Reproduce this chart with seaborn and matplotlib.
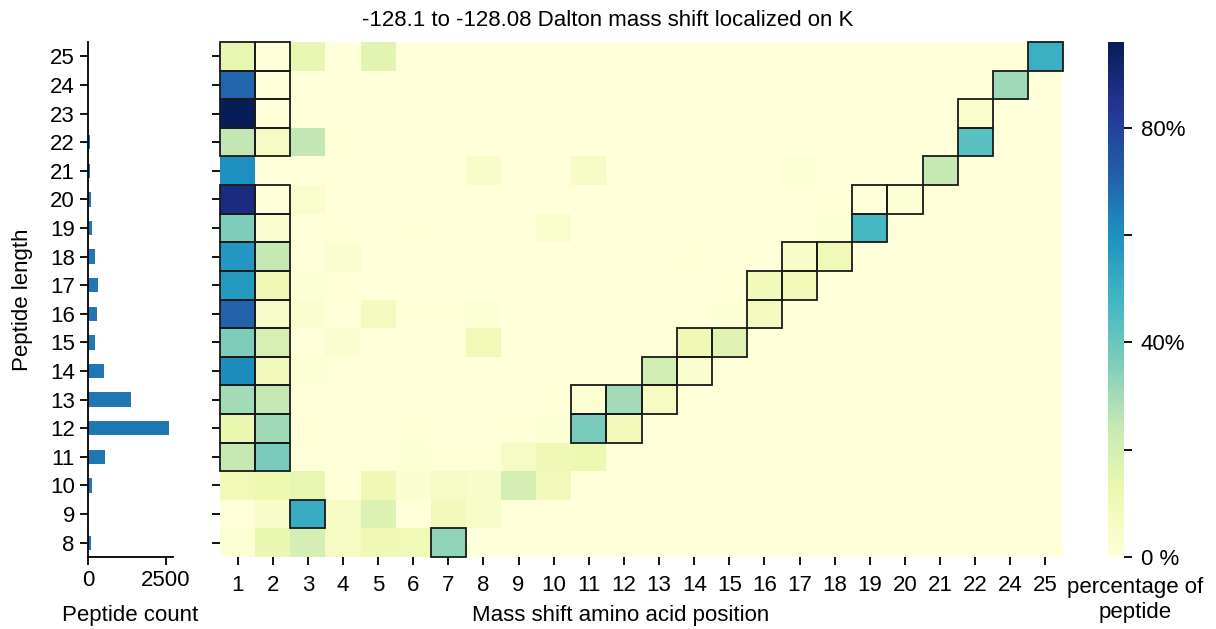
import numpy as np
import pandas as pd
import matplotlib
matplotlib.use("Agg")
import matplotlib.pyplot as plt
import seaborn as sns
from matplotlib.patches import Rectangle

# Peptide lengths (top row first) and modified-residue positions
lengths = list(range(25, 7, -1))
positions = [1, 2, 3, 4, 5, 6, 7, 8, 9, 10, 11, 12, 13, 14, 15, 16, 17, 18,
             19, 20, 21, 22, 24, 25]

# Number of peptides per length
peptide_counts = [10, 12, 14, 75, 60, 80, 130, 230, 310, 300, 225, 510,
                  1360, 2590, 555, 140, 15, 85]

# Percentage of peptides carrying the shift at each position, one row per length
pct_25 = [14, 0, 14, 0, 15, 0, 0, 0, 0, 0, 0, 0, 0, 0, 0, 0, 0, 0, 0, 0, 0, 0, 0, 50]
pct_24 = [70, 0, 0, 0, 0, 0, 0, 0, 0, 0, 0, 0, 0, 0, 0, 0, 0, 0, 0, 0, 0, 0, 31, 0]
pct_23 = [96, 0, 0, 0, 0, 0, 0, 0, 0, 0, 0, 0, 0, 0, 0, 0, 0, 0, 0, 0, 0, 4, 0, 0]
pct_22 = [25, 6, 25, 1, 0, 0, 0, 0, 0, 0, 0, 0, 0, 0, 0, 0, 0, 0, 0, 0, 0, 43, 0, 0]
pct_21 = [60, 0.5, 0, 0, 0, 0, 0, 5, 0, 0, 6, 0, 0, 0, 0, 0, 2, 0, 0, 0, 24, 0, 0, 0]
pct_20 = [88, 0.5, 4, 0, 0, 0, 0, 0, 0, 0, 0, 0, 0, 0, 0, 0, 0.5, 1, 0, 2, 0, 0, 0, 0]
pct_19 = [36, 3.5, 0.5, 1, 0.5, 1, 0.5, 0, 0, 4, 0, 0, 0, 0, 0, 0, 0, 2, 47, 0, 0, 0, 0, 0]
pct_18 = [58, 24, 0.5, 3, 0, 0, 0, 0, 0, 0, 0, 0, 0, 1, 0, 0, 5, 10, 0, 0, 0, 0, 0, 0]
pct_17 = [57, 11, 2, 1, 0, 0, 0, 0, 0.5, 0, 0, 0, 0, 0, 1, 9, 10, 0, 0, 0, 0, 0, 0, 0]
pct_16 = [71, 5, 3, 0.5, 8, 1, 1, 2, 0, 0, 0, 0, 0, 0, 2, 8, 0, 0, 0, 0, 0, 0, 0, 0]
pct_15 = [36, 19, 0.5, 3, 0.5, 0.5, 0.5, 10, 0, 0, 0, 0.5, 0.5, 11, 16, 0, 0, 0, 0, 0, 0, 0, 0, 0]
pct_14 = [61, 9, 2, 0.5, 0, 0, 0, 0, 0, 0, 0, 0, 21, 3, 0, 0, 0, 0, 0, 0, 0, 0, 0, 0]
pct_13 = [30, 24, 0.5, 0.5, 0.5, 0.5, 0.5, 0.5, 0.5, 1, 2.5, 30, 7, 0, 0, 0, 0, 0, 0, 0, 0, 0, 0, 0]
pct_12 = [13, 31, 1, 0.5, 0.5, 1, 0.5, 0.5, 1, 2, 37, 9, 0, 0, 0, 0, 0, 0, 0, 0, 0, 0, 0, 0]
pct_11 = [24, 37, 0.5, 0.5, 0.5, 2, 1, 1, 6, 11, 12, 0, 0, 0, 0, 0, 0, 0, 0, 0, 0, 0, 0, 0]
pct_10 = [10, 12, 14, 1, 11, 3, 6, 5, 20, 9, 0, 0, 0, 0, 0, 0, 0, 0, 0, 0, 0, 0, 0, 0]
pct_9 = [0.5, 5, 51, 6, 17, 0, 9, 5, 0, 0, 0, 0, 0, 0, 0, 0, 0, 0, 0, 0, 0, 0, 0, 0]
pct_8 = [2, 13, 20, 7, 11, 10, 33, 0, 0, 0, 0, 0, 0, 0, 0, 0, 0, 0, 0, 0, 0, 0, 0, 0]

# Cells highlighted with a frame: peptide length -> positions
highlighted = {
    25: [1, 2, 25], 24: [1, 2, 24], 23: [1, 2, 22], 22: [1, 2, 22],
    21: [21], 20: [1, 2, 19, 20], 19: [1, 2, 19], 18: [1, 2, 17, 18],
    17: [1, 2, 16, 17], 16: [1, 2, 16], 15: [1, 2, 14, 15],
    14: [1, 2, 13, 14], 13: [1, 2, 11, 12, 13], 12: [1, 2, 11, 12],
    11: [1, 2], 9: [3], 8: [7],
}

title = "-128.1 to -128.08 Dalton mass shift localized on K"

pct_table = pd.DataFrame(
    [pct_25, pct_24, pct_23, pct_22, pct_21, pct_20, pct_19, pct_18, pct_17,
     pct_16, pct_15, pct_14, pct_13, pct_12, pct_11, pct_10, pct_9, pct_8],
    index=lengths, columns=positions)
counts = pd.DataFrame({"length": [str(l) for l in lengths], "count": peptide_counts})

plt.rcParams["font.family"] = ["Liberation Sans", "DejaVu Sans"]
FS = 16
plt.rcParams["font.size"] = FS

W, H = 1216, 629
fig = plt.figure(figsize=(W / 100, H / 100), dpi=100)


def frac(x0, y0, x1, y1):
    return [x0 / W, 1 - y1 / H, (x1 - x0) / W, (y1 - y0) / H]


ax_bar = fig.add_axes(frac(88, 42, 173, 557))
ax_hm = fig.add_axes(frac(220, 42, 1063, 557))
ax_cb = fig.add_axes(frac(1108, 42, 1124, 557))

vmax = float(pct_table.values.max())
sns.heatmap(pct_table, ax=ax_hm, cmap="YlGnBu", vmin=0, vmax=vmax,
            cbar_ax=ax_cb, xticklabels=True, yticklabels=True)

# frames around highlighted cells
for length, pos_list in highlighted.items():
    r = lengths.index(length)
    for p in pos_list:
        c = positions.index(p)
        ax_hm.add_patch(Rectangle((c, r), 1, 1, fill=False,
                                  edgecolor="#1a1a1a", lw=1.3, zorder=3,
                                  clip_on=False))

ax_hm.set_yticklabels([])
ax_hm.set_ylabel("")
ax_hm.set_xlabel("")
ax_hm.set_xticklabels([str(p) for p in positions], rotation=0)
ax_hm.tick_params(axis="y", length=6, width=1.3, pad=2)
ax_hm.tick_params(axis="x", length=6, width=1.3, pad=7, labelsize=FS)

# colorbar styling
ax_cb.set_yticks([0, 20, 40, 60, 80])
ax_cb.set_yticklabels(["0 %", "", "40%", "", "80%"])
ax_cb.tick_params(axis="y", length=6, width=1.3, pad=6, labelsize=FS)
for s in ax_cb.spines.values():
    s.set_visible(False)

# peptide count bars
sns.barplot(data=counts, x="count", y="length", order=[str(l) for l in lengths],
            orient="h", color="#1f77b4", saturation=1, width=0.5, ax=ax_bar)
ax_bar.set_ylim(len(lengths) - 0.5, -0.5)
ax_bar.set_xlim(0, 2720)
ax_bar.set_xticks([0, 2500])
ax_bar.set_xlabel("Peptide count", labelpad=10)
ax_bar.set_ylabel("Peptide length", labelpad=12)
ax_bar.spines["top"].set_visible(False)
ax_bar.spines["right"].set_visible(False)
ax_bar.spines["left"].set_linewidth(1.3)
ax_bar.spines["bottom"].set_linewidth(1.3)
ax_bar.tick_params(length=6, width=1.3, labelsize=FS)

fig.text(0.5, 1 - 20 / H, title, ha="center", va="center", fontsize=FS)
fig.text(621 / W, 1 - 615 / H, "Mass shift amino acid position",
         ha="center", va="center", fontsize=FS)
fig.text(1135 / W, 1 - 600 / H, "percentage of\npeptide",
         ha="center", va="center", fontsize=FS, linespacing=1.2)

fig.savefig("out.png", dpi=100)
